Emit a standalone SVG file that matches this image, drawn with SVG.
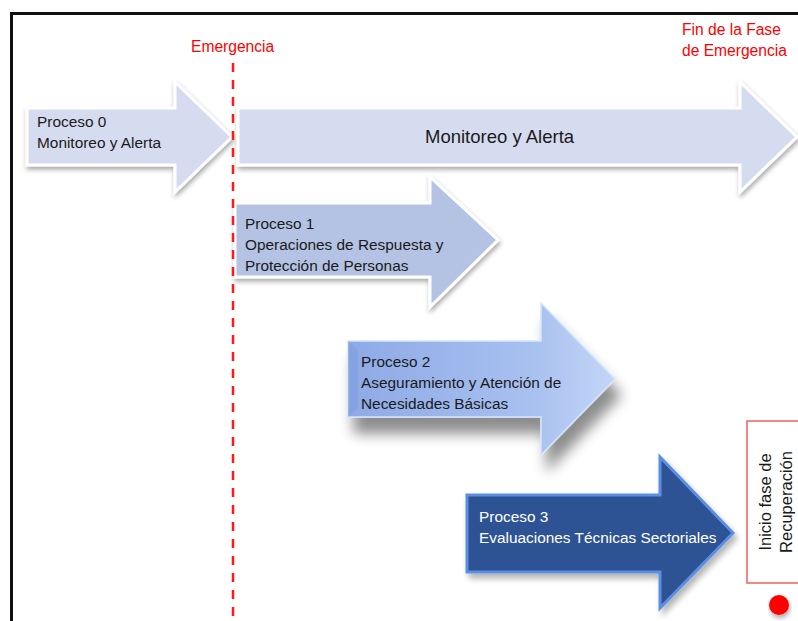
<svg xmlns="http://www.w3.org/2000/svg" width="798" height="621" viewBox="0 0 798 621">
<defs>
<style>
.t{font-family:"Liberation Sans",Arial,sans-serif;font-size:15.4px;fill:#1a1a1a}
.red{font-family:"Liberation Sans",Arial,sans-serif;font-size:15.6px;fill:#ff0000}
.w{fill:#ffffff}
</style>
<filter id="sh" x="-10%" y="-20%" width="125%" height="150%">
<feGaussianBlur in="SourceAlpha" stdDeviation="2.5"/>
<feOffset dx="1" dy="3" result="b"/>
<feComponentTransfer><feFuncA type="linear" slope="0.35"/></feComponentTransfer>
<feMerge><feMergeNode/><feMergeNode in="SourceGraphic"/></feMerge>
</filter>
<filter id="sh2" x="-20%" y="-20%" width="150%" height="170%">
<feGaussianBlur in="SourceAlpha" stdDeviation="7"/>
<feOffset dx="6" dy="16" result="b"/>
<feComponentTransfer><feFuncA type="linear" slope="0.45"/></feComponentTransfer>
<feMerge><feMergeNode/><feMergeNode in="SourceGraphic"/></feMerge>
</filter>
<filter id="sh3" x="-10%" y="-20%" width="130%" height="150%">
<feGaussianBlur in="SourceAlpha" stdDeviation="3"/>
<feOffset dx="3" dy="5" result="b"/>
<feComponentTransfer><feFuncA type="linear" slope="0.3"/></feComponentTransfer>
<feMerge><feMergeNode/><feMergeNode in="SourceGraphic"/></feMerge>
</filter>
<linearGradient id="g2" x1="0" y1="0" x2="1" y2="0">
<stop offset="0" stop-color="#8eaae6"/>
<stop offset="0.7" stop-color="#a9c1f0"/>
<stop offset="1" stop-color="#c4d6f7"/>
</linearGradient>
</defs>
<rect x="0" y="0" width="798" height="621" fill="#ffffff"/>
<path d="M10,13.5 H798 M11.5,13 V621" stroke="#111" stroke-width="3" fill="none"/>

<g id="proceso0">
<path d="M27,108 L175,108 L175,82 L232,137 L175,192 L175,165 L27,165 Z" fill="#d6dcf0" stroke="#ffffff" stroke-width="3" filter="url(#sh)"/>
<text class="t" x="37" y="127">Proceso 0</text>
<text class="t" x="37" y="148">Monitoreo y Alerta</text>
</g>

<g id="monitoreo">
<path d="M238,108 L740,108 L740,82 L797,137 L740,192 L740,165 L238,165 Z" fill="#d6dcf0" stroke="#ffffff" stroke-width="3" filter="url(#sh)"/>
<text class="t" x="425" y="143" style="font-size:18.5px">Monitoreo y Alerta</text>
</g>

<g id="proceso1">
<path d="M235,203 L430,203 L430,177 L498,240 L430,307 L430,277 L235,277 Z" fill="#b4c3e3" stroke="#ffffff" stroke-width="3" filter="url(#sh)"/>
<text class="t" x="245" y="229">Proceso 1</text>
<text class="t" x="245" y="250">Operaciones de Respuesta y</text>
<text class="t" x="245" y="271">Protección de Personas</text>
</g>

<g id="proceso2">
<path d="M348,341 L541,341 L541,303 L615,379 L541,455 L541,417 L348,417 Z" fill="url(#g2)" stroke="#d3e6fb" stroke-width="1.5" filter="url(#sh2)"/>
<path d="M348,341 L358,350 L358,408 L348,417 Z" fill="#7f9ee0" opacity="0.6"/>
<text class="t" x="361" y="367">Proceso 2</text>
<text class="t" x="361" y="388">Aseguramiento y Atención de</text>
<text class="t" x="361" y="409">Necesidades Básicas</text>
</g>

<g id="proceso3">
<path d="M467,495 L660,495 L660,457 L733,533 L660,608 L660,572 L467,572 Z" fill="#2e5295" stroke="#5b8fe3" stroke-width="3" filter="url(#sh3)"/>
<text class="t w" x="479" y="522">Proceso 3</text>
<text class="t w" x="479" y="543">Evaluaciones Técnicas Sectoriales</text>
</g>

<g id="connectors">
<line x1="233" y1="63" x2="233" y2="621" stroke="#ff1a1a" stroke-width="2.5" stroke-dasharray="9,8"/>
</g>

<g id="emergencia">
<text class="red" x="191" y="52">Emergencia</text>
</g>
<g id="fin">
<text class="red" x="682" y="35">Fin de la Fase</text>
<text class="red" x="682" y="56">de Emergencia</text>
</g>

<g id="recuperacion">
<rect x="747" y="421" width="60" height="162" fill="#ffffff" stroke="#f06060" stroke-width="1.5"/>
<text class="t" transform="translate(771,502) rotate(-90)" text-anchor="middle" style="font-size:16.5px">Inicio fase de</text>
<text class="t" transform="translate(792,502) rotate(-90)" text-anchor="middle" style="font-size:16.5px">Recuperación</text>
<circle cx="779" cy="605" r="10" fill="#ff0000" filter="url(#sh)"/>
</g>
</svg>
